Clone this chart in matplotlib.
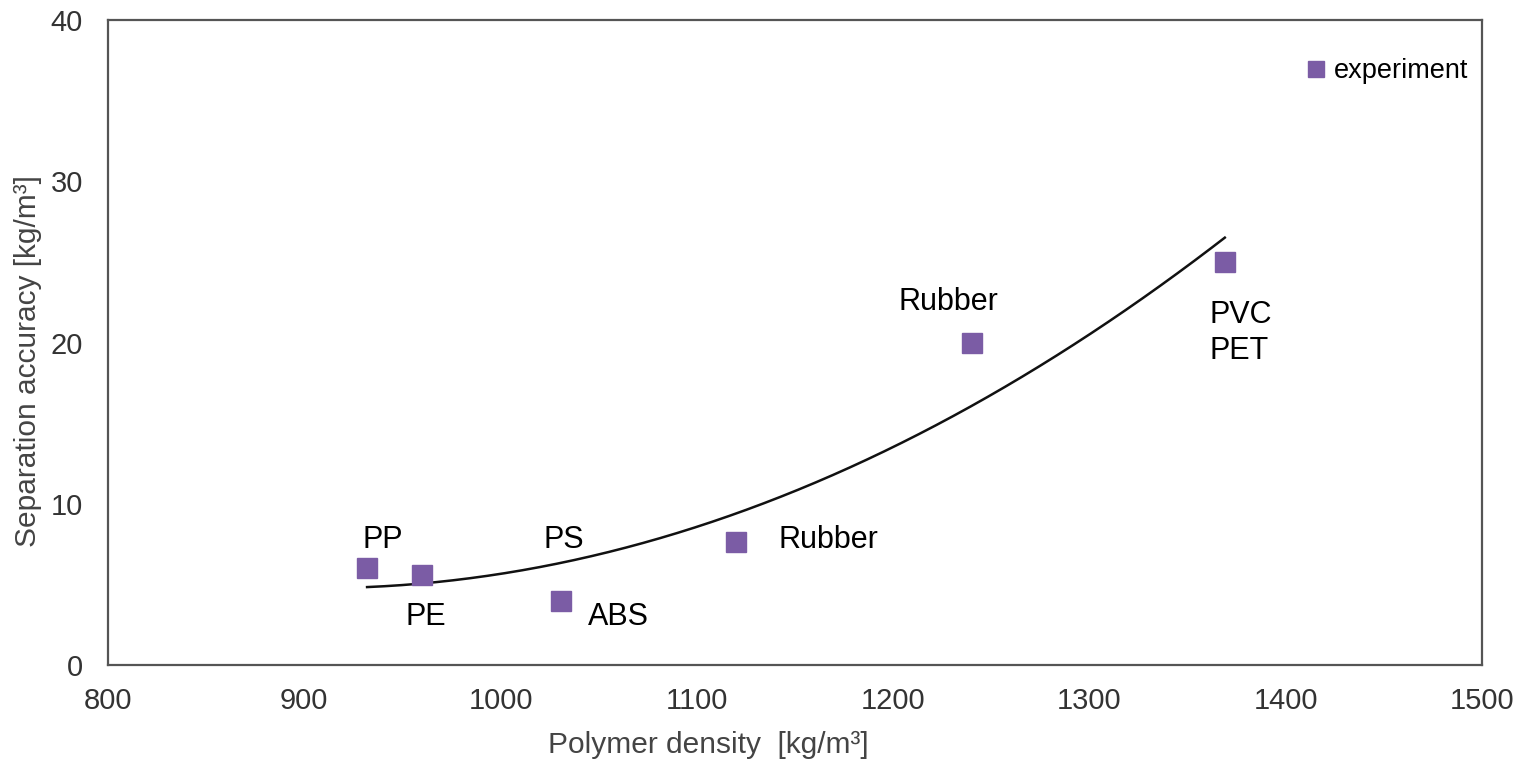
import numpy as np
import matplotlib.pyplot as plt

# data
density = [932, 960, 1031, 1120, 1240, 1369]
accuracy = [6.0, 5.6, 4.0, 7.6, 20.0, 25.0]
names = ['PP', 'PE', 'PS', 'ABS', 'Rubber', 'Rubber', 'PVC\nPET']
label_x = [940, 962, 1032, 1060, 1167, 1228, 1361]
label_y = [7.75, 3.0, 7.75, 3.0, 7.75, 22.5, 20.6]
label_ha = ['center'] * 6 + ['left']

plt.rcParams['font.family'] = ['Liberation Sans', 'DejaVu Sans']

fig = plt.figure(figsize=(15.19, 7.63), dpi=100)
ax = fig.add_axes([0.0711, 0.1284, 0.9045, 0.8454])

purple = '#7b5ca5'
ax.plot(density, accuracy, 's', color=purple, markersize=14.8, label='experiment', zorder=3)

# trendline (2nd order fit of the points)
coef = np.polyfit(density, accuracy, 2)
xs = np.linspace(min(density), max(density), 200)
ax.plot(xs, np.polyval(coef, xs), color='#111111', lw=1.8, zorder=2)

for name, lx, ly, ha in zip(names, label_x, label_y, label_ha):
    ax.text(lx, ly, name, fontsize=22, ha=ha, va='center', color='black',
            linespacing=1.25)

ax.set_xlim(800, 1500)
ax.set_ylim(0, 40)
ax.set_xticks(range(800, 1501, 100))
ax.set_yticks(range(0, 41, 10))
ax.tick_params(length=0, labelsize=21, labelcolor='#333333')
ax.tick_params(axis='y', pad=18)
ax.tick_params(axis='x', pad=16)
for s in ax.spines.values():
    s.set_color('#555555')
    s.set_linewidth(1.6)

ax.set_xlabel('Polymer density  [kg/m³]', fontsize=21.5, color='#444444')
ax.set_ylabel('Separation accuracy [kg/m³]', fontsize=21.5, color='#444444')
ax.xaxis.set_label_coords(0.437, -0.102)
ax.yaxis.set_label_coords(-0.048, 0.471)

ax.legend(loc='upper right', bbox_to_anchor=(1.002, 0.966), frameon=False,
          fontsize=19.5, handletextpad=-0.35, markerscale=0.82, borderaxespad=0.2)

fig.savefig('out.png', dpi=100)
